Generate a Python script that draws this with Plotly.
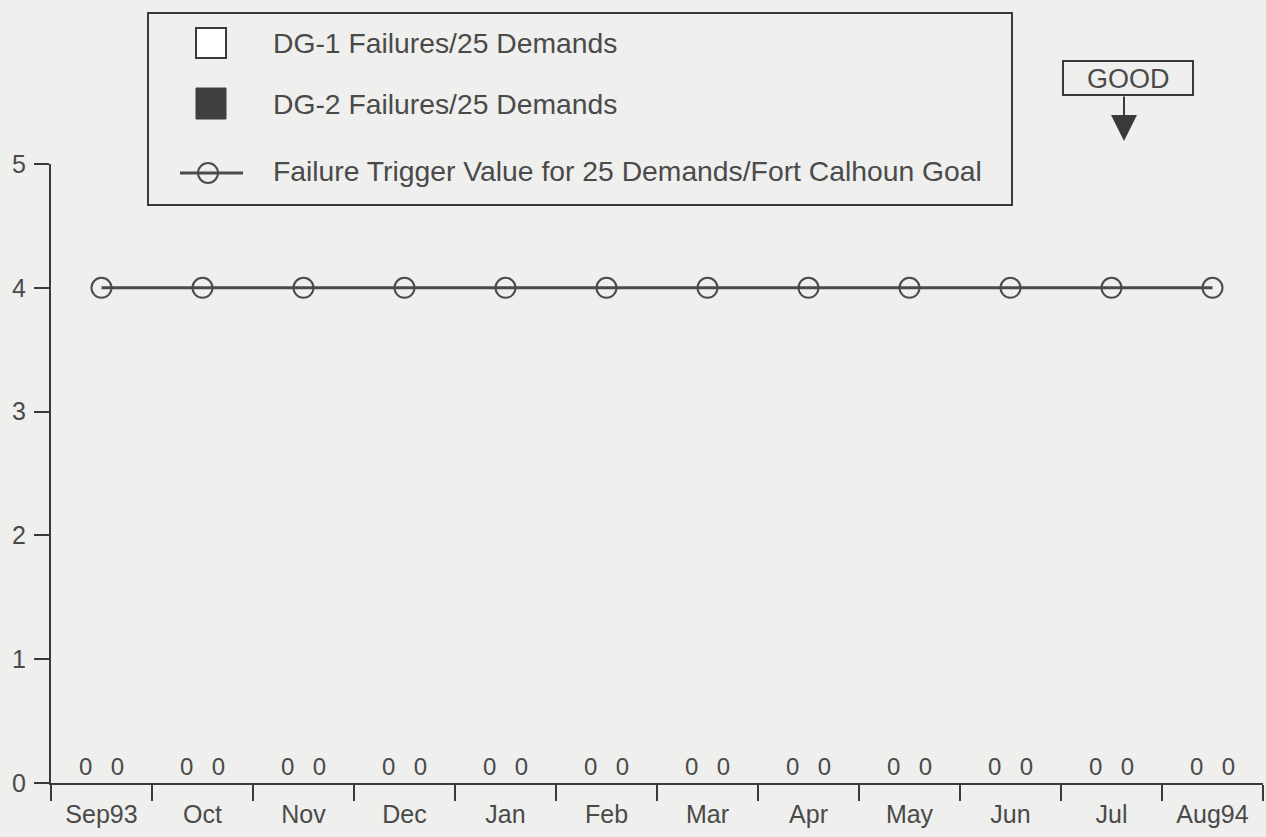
import plotly.graph_objects as go

months = ['Sep93', 'Oct', 'Nov', 'Dec', 'Jan', 'Feb', 'Mar', 'Apr', 'May', 'Jun', 'Jul', 'Aug94']
dg1_failures = [0, 0, 0, 0, 0, 0, 0, 0, 0, 0, 0, 0]
dg2_failures = [0, 0, 0, 0, 0, 0, 0, 0, 0, 0, 0, 0]
trigger_value = [4, 4, 4, 4, 4, 4, 4, 4, 4, 4, 4, 4]

names = ['DG-1 Failures/25 Demands',
         'DG-2 Failures/25 Demands',
         'Failure Trigger Value for 25 Demands/Fort Calhoun Goal']

ink = '#3a3a3a'
txt = '#4a4a4a'
bg = '#efefed'
font = 'Liberation Sans, Arial, sans-serif'

W, H = 1266, 837
L, R, T, B = 51, 3, 164, 54


# pixel -> paper helpers for the hand drawn legend / GOOD box
def px(x):
    return (x - L) / (W - L - R)


def py(y):
    return (H - B - y) / (H - T - B)


fig = go.Figure()

fig.add_trace(go.Bar(
    x=months, y=dg1_failures, name=names[0],
    marker=dict(color='white', line=dict(width=0)),
    text=[str(v) for v in dg1_failures], textposition='outside',
    textfont=dict(size=24, color=txt), cliponaxis=False, showlegend=False
))
fig.add_trace(go.Bar(
    x=months, y=dg2_failures, name=names[1],
    marker=dict(color='#444', line=dict(width=0)),
    text=[str(v) for v in dg2_failures], textposition='outside',
    textfont=dict(size=24, color=txt), cliponaxis=False, showlegend=False
))
fig.add_trace(go.Scatter(
    x=months, y=trigger_value, name=names[2],
    mode='lines+markers',
    line=dict(color='#4a4a4a', width=3),
    marker=dict(symbol='circle-open', size=20, color='#4a4a4a', line=dict(width=2)),
    showlegend=False
))

# legend frame
fig.add_shape(type='rect', xref='paper', yref='paper',
              x0=px(148), x1=px(1012), y0=py(205), y1=py(13),
              line=dict(color=ink, width=2))
# legend keys
fig.add_shape(type='rect', xref='paper', yref='paper',
              x0=px(196), x1=px(226), y0=py(58), y1=py(28),
              fillcolor='white', line=dict(color=ink, width=2))
fig.add_shape(type='rect', xref='paper', yref='paper',
              x0=px(196), x1=px(226), y0=py(119), y1=py(88),
              fillcolor='#3f3f3f', line=dict(color='#3f3f3f', width=1))
fig.add_shape(type='line', xref='paper', yref='paper',
              x0=px(180), x1=px(243), y0=py(173), y1=py(173),
              line=dict(color='#4a4a4a', width=3))
fig.add_shape(type='circle', xref='paper', yref='paper',
              x0=px(198), x1=px(218), y0=py(183), y1=py(163),
              line=dict(color='#4a4a4a', width=2))
for name, ypx in zip(names, [43, 104, 171]):
    fig.add_annotation(x=px(271), y=py(ypx), xref='paper', yref='paper',
                       xanchor='left', yanchor='middle', showarrow=False,
                       text=name, font=dict(size=28.3, color=txt))

# GOOD indicator
fig.add_shape(type='rect', xref='paper', yref='paper',
              x0=px(1063), x1=px(1193), y0=py(95), y1=py(61),
              line=dict(color=ink, width=2))
fig.add_annotation(x=px(1128), y=py(79), xref='paper', yref='paper',
                   xanchor='center', yanchor='middle',
                   showarrow=False, text='GOOD', font=dict(size=27, color=txt))
fig.add_annotation(x=px(1124), y=py(141), xref='paper', yref='paper',
                   ax=0, ay=-46, text='', showarrow=True,
                   arrowhead=2, arrowsize=2.6, arrowwidth=2, arrowcolor=ink)

fig.update_layout(
    width=W, height=H,
    margin=dict(l=L, r=R, t=T, b=B),
    paper_bgcolor=bg, plot_bgcolor=bg,
    font=dict(family=font, size=25, color=txt),
    barmode='group', bargap=0.37, bargroupgap=0,
    showlegend=False,
    xaxis=dict(type='category', range=[-0.5, 11.5], tickson='boundaries',
               ticks='outside', ticklen=16, ticklabelstandoff=8,
               tickwidth=2, tickcolor=ink, showline=True, linecolor=ink, linewidth=2,
               showgrid=False, tickfont=dict(size=25, color=txt)),
    yaxis=dict(range=[0, 5], dtick=1, ticks='outside', ticklen=15, tickwidth=2,
               ticklabelstandoff=3,
               tickcolor=ink, showline=True, linecolor=ink, linewidth=2,
               showgrid=False, zeroline=False, tickfont=dict(size=25, color=txt))
)

fig.write_html('out.html', config={'displayModeBar': False},
               post_script="document.body.style.margin='0';"
                           "document.body.style.background='%s';" % bg)
